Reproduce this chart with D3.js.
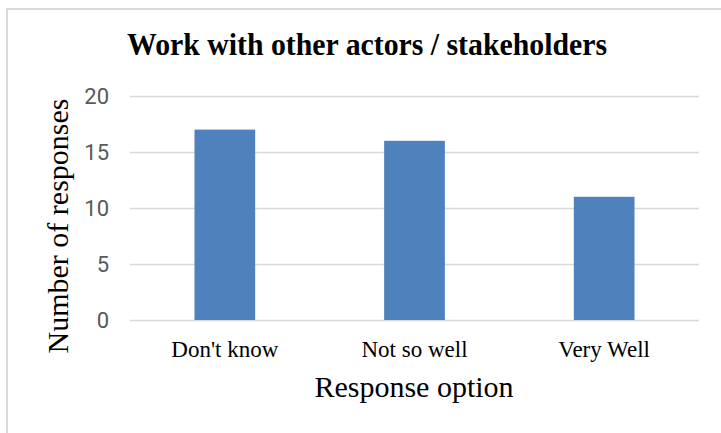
<!DOCTYPE html>
<html>
<head>
<meta charset="utf-8">
<script src="https://cdn.jsdelivr.net/npm/d3@7"></script>
<style>
  html, body { margin: 0; padding: 0; background: #fff; }
  svg { display: block; }
</style>
</head>
<body>
<svg id="chart" width="721" height="433"></svg>
<script>
const categories = ["Don't know", "Not so well", "Very Well"];
const values = [17, 16, 11];
const yTicks = [0, 5, 10, 15, 20];
const titleText = "Work with other actors / stakeholders";
const xTitle = "Response option";
const yTitle = "Number of responses";

const svg = d3.select("#chart");
const W = 721, H = 433;

svg.append("rect").attr("width", W).attr("height", H).attr("fill", "#fff");
// chart area border (only top/left visible in the crop)
svg.append("rect")
  .attr("x", 7).attr("y", 9).attr("width", W + 20).attr("height", H + 20)
  .attr("fill", "none").attr("stroke", "#d9d9d9").attr("stroke-width", 2);

const x = d3.scaleBand().domain(categories).range([130, 699])
  .paddingInner(0.68).paddingOuter(0.34);
const y = d3.scaleLinear().domain([0, 20]).range([320, 96]);

// gridlines
const yAxis = d3.axisLeft(y).tickValues(yTicks).tickSize(-(699 - 130)).tickPadding(21);
const gy = svg.append("g").attr("transform", "translate(130,0)").call(yAxis);
gy.select(".domain").remove();
gy.selectAll(".tick line").attr("stroke", "#d9d9d9").attr("stroke-width", 1.5);
gy.selectAll(".tick text")
  .attr("fill", "#595959")
  .style("font-family", "Roboto, 'Liberation Sans', sans-serif")
  .style("font-size", "22px");

// bars
svg.append("g").selectAll("rect").data(values).join("rect")
  .attr("x", (d, i) => x(categories[i]))
  .attr("y", d => y(d))
  .attr("width", x.bandwidth())
  .attr("height", d => y(0) - y(d))
  .attr("fill", "#4f81bd");

// x axis labels
const xAxis = d3.axisBottom(x).tickSize(0).tickPadding(0);
const gx = svg.append("g").attr("transform", "translate(0,320)").call(xAxis);
gx.select(".domain").remove();
gx.selectAll(".tick text")
  .attr("y", 37).attr("dy", null)
  .attr("fill", "#000")
  .style("font-family", "'Liberation Serif', 'Times New Roman', serif")
  .style("font-size", "23px");

// title
svg.append("text")
  .attr("x", 367).attr("y", 55)
  .attr("text-anchor", "middle")
  .attr("textLength", 480).attr("lengthAdjust", "spacingAndGlyphs")
  .style("font-family", "'Liberation Serif', 'Times New Roman', serif")
  .style("font-weight", "bold")
  .style("font-size", "32px")
  .attr("fill", "#000")
  .text(titleText);

// x title
svg.append("text")
  .attr("x", 414).attr("y", 397)
  .attr("text-anchor", "middle")
  .style("font-family", "'Liberation Serif', 'Times New Roman', serif")
  .style("font-size", "30px")
  .attr("fill", "#000")
  .text(xTitle);

// y title
svg.append("text")
  .attr("transform", "translate(68,226) rotate(-90)")
  .attr("text-anchor", "middle")
  .style("font-family", "'Liberation Serif', 'Times New Roman', serif")
  .style("font-size", "30px")
  .attr("fill", "#000")
  .text(yTitle);
</script>
</body>
</html>
